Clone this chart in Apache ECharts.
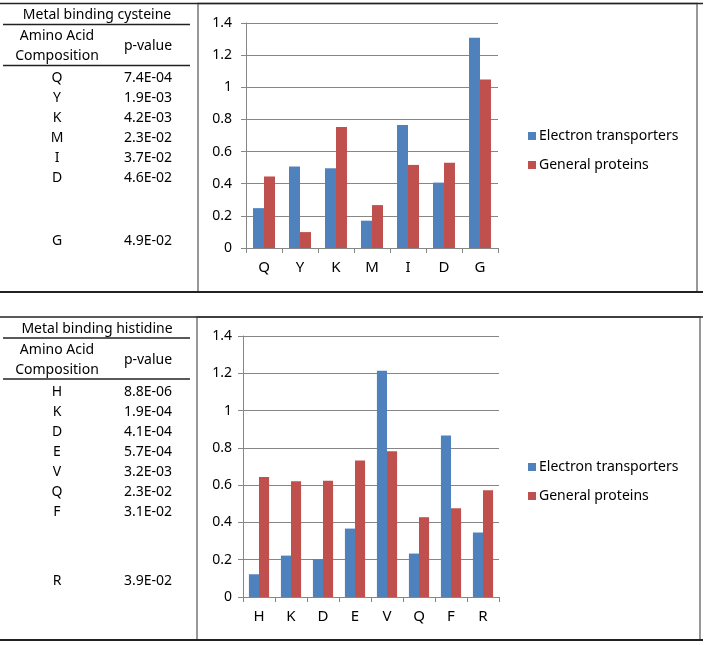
<!DOCTYPE html>
<html><head><meta charset="utf-8">
<script src="https://cdn.jsdelivr.net/npm/echarts@6/dist/echarts.min.js"></script>
<style>html,body{margin:0;padding:0;background:#fff}#c{width:705px;height:645px}</style>
</head><body><div id="c"></div>
<script>
// ---- data ----
const seriesNames = ['Electron transporters', 'General proteins'];
const cysTitle = 'Metal binding cysteine';
const cysCategories = ['Q', 'Y', 'K', 'M', 'I', 'D', 'G'];
const cysPvalues = ['7.4E-04', '1.9E-03', '4.2E-03', '2.3E-02', '3.7E-02', '4.6E-02', '4.9E-02'];
const cysElectron = [0.248, 0.507, 0.496, 0.170, 0.765, 0.407, 1.309];
const cysGeneral = [0.445, 0.099, 0.753, 0.267, 0.517, 0.531, 1.048];

const hisTitle = 'Metal binding histidine';
const hisCategories = ['H', 'K', 'D', 'E', 'V', 'Q', 'F', 'R'];
const hisPvalues = ['8.8E-06', '1.9E-04', '4.1E-04', '5.7E-04', '3.2E-03', '2.3E-02', '3.1E-02', '3.9E-02'];
const hisElectron = [0.122, 0.222, 0.202, 0.367, 1.214, 0.233, 0.866, 0.346];
const hisGeneral = [0.644, 0.621, 0.623, 0.732, 0.782, 0.428, 0.476, 0.573];

const headerCol1 = ['Amino Acid', 'Composition'];
const headerCol2 = 'p-value';

// ---- layout / style ----
const FONT = 'Noto Sans';
const BLUE = '#4F81BD', RED = '#C0504D';
const TXT = '#000';

function tableGraphics(o) {
  const g = [];
  const line = (x1, y1, x2, y2, w, c) => g.push({type: 'line', shape: {x1, y1, x2, y2}, style: {stroke: c || '#000', lineWidth: w || 1}, silent: true, z: 10});
  const text = (x, y, t, align) => g.push({type: 'text', x, y, style: {text: t, fill: TXT, font: '14px "' + FONT + '"', align: align || 'center', verticalAlign: 'middle'}, silent: true});
  // chart frame
  g.push({type: 'rect', shape: {x: o.frameLeft, y: o.top, width: o.frameRight - o.frameLeft, height: o.bottom - o.top}, style: {fill: 'none', stroke: '#777', lineWidth: 1.5}, silent: true});
  // outer lines
  line(0, o.top, 703, o.top, 1.5, '#222');
  line(0, o.bottom, 703, o.bottom, 2, '#222');
  text(97, o.top + 12, o.title);
  line(3, o.top + 21, 190, o.top + 21, 1.5, '#222');
  text(57, o.top + 33, headerCol1[0]);
  text(57, o.top + 53, headerCol1[1]);
  text(148, o.top + 43, headerCol2);
  line(3, o.top + 62, 190, o.top + 62, 1.5, '#222');
  const n = o.cats.length;
  for (let i = 0; i < n; i++) {
    const y = (i < n - 1) ? o.top + 75 + 20 * i : o.lastY;
    text(57, y, o.cats[i]);
    text(148, y, o.pvals[i]);
  }
  return g;
}

const graphics = [].concat(
  tableGraphics({top: 3.5, bottom: 292, frameLeft: 198, frameRight: 697, title: cysTitle, cats: cysCategories, pvals: cysPvalues, lastY: 241}),
  tableGraphics({top: 317, bottom: 640, frameLeft: 197, frameRight: 700, title: hisTitle, cats: hisCategories, pvals: hisPvalues, lastY: 581.5})
);

function xAxis(gi, cats) {
  return {type: 'category', gridIndex: gi, data: cats,
    axisLine: {lineStyle: {color: '#868686'}},
    axisTick: {show: true, length: 5, lineStyle: {color: '#868686'}},
    axisLabel: {color: TXT, fontFamily: FONT, fontSize: 15, margin: 12}};
}
function yAxis(gi, margin) {
  return {type: 'value', gridIndex: gi, min: 0, max: 1.4, interval: 0.2,
    axisLine: {show: true, lineStyle: {color: '#868686'}},
    axisTick: {show: true, length: 5, lineStyle: {color: '#868686'}},
    splitLine: {lineStyle: {color: '#868686'}},
    axisLabel: {color: TXT, fontFamily: FONT, fontSize: 14, margin: margin}};
}
function bar(name, data, gi, color, gap) {
  return {type: 'bar', name, data, xAxisIndex: gi, yAxisIndex: gi, barGap: '0%', barCategoryGap: gap,
    itemStyle: {color}, animation: false};
}
function legend(top) {
  return {data: seriesNames, left: 523, top, orient: 'vertical', itemGap: 15, itemWidth: 8, itemHeight: 8, icon: 'rect',
    textStyle: {color: TXT, fontFamily: FONT, fontSize: 14, padding: [0, 0, 0, -2]}};
}

const chart = echarts.init(document.getElementById('c'));
chart.setOption({
  animation: false,
  backgroundColor: '#fff',
  graphic: graphics,
  grid: [
    {left: 246, right: 705 - 498, top: 23, height: 225},
    {left: 243, right: 705 - 499, top: 336, height: 261}
  ],
  xAxis: [xAxis(0, cysCategories), xAxis(1, hisCategories)],
  yAxis: [yAxis(0, 14), yAxis(1, 11)],
  legend: [legend(124), legend(455)],
  series: [
    bar(seriesNames[0], cysElectron, 0, BLUE, '39%'),
    bar(seriesNames[1], cysGeneral, 0, RED, '39%'),
    bar(seriesNames[0], hisElectron, 1, BLUE, '37%'),
    bar(seriesNames[1], hisGeneral, 1, RED, '37%')
  ]
});
</script></body></html>
